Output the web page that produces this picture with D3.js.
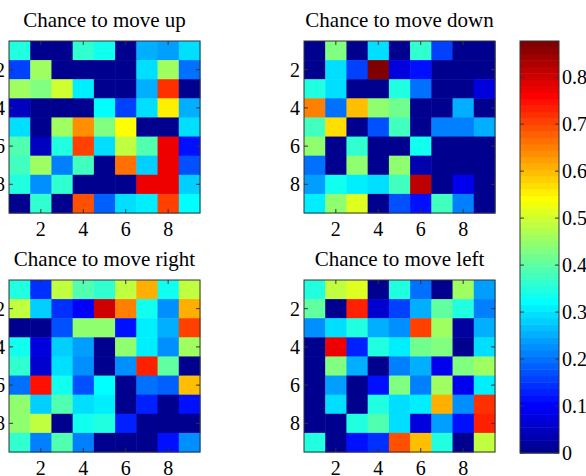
<!DOCTYPE html>
<html>
<head>
<meta charset="utf-8">
<script src="https://cdn.jsdelivr.net/npm/d3@7"></script>
<style>
  body { margin: 0; background: #fff; }
  svg { display: block; font-family: "Liberation Serif", "Times New Roman", serif; }
</style>
</head>
<body>
<div id="chart"></div>
<script>
// values, rows top to bottom, columns left to right
const upData = [
  [0.35, 0, 0, 0.36, 0.33, 0, 0.25, 0.24, 0.29],
  [0.16, 0.46, 0, 0, 0, 0, 0.30, 0.46, 0.20],
  [0.46, 0.43, 0.50, 0.31, 0, 0, 0.25, 0.72, 0],
  [0.05, 0, 0, 0, 0.32, 0.16, 0.29, 0.55, 0.26],
  [0.29, 0, 0.46, 0.64, 0.43, 0.54, 0, 0, 0.30],
  [0.39, 0.05, 0.35, 0.71, 0.29, 0.48, 0.39, 0.78, 0.11],
  [0.37, 0.46, 0.21, 0.37, 0, 0.67, 0.28, 0.78, 0.17],
  [0.35, 0.23, 0.36, 0, 0, 0, 0.78, 0.78, 0.28],
  [0, 0.36, 0, 0.69, 0.19, 0.30, 0.31, 0.71, 0.32]
];
const downData = [
  [0, 0.43, 0, 0.29, 0, 0.36, 0.16, 0, 0],
  [0, 0.29, 0.16, 0.877, 0.08, 0.12, 0, 0, 0],
  [0.35, 0.29, 0, 0, 0.35, 0.20, 0, 0, 0.07],
  [0.65, 0.20, 0.60, 0.44, 0.42, 0, 0, 0.25, 0],
  [0.38, 0.57, 0, 0.17, 0.38, 0, 0.21, 0.21, 0.26],
  [0.45, 0, 0.36, 0, 0, 0.34, 0, 0, 0],
  [0.20, 0, 0.44, 0, 0.44, 0.03, 0, 0, 0],
  [0.24, 0.33, 0.31, 0.30, 0.37, 0.82, 0, 0.09, 0],
  [0.31, 0.45, 0.51, 0, 0.17, 0.12, 0.37, 0.21, 0]
];
const rightData = [
  [0.35, 0.15, 0.49, 0.39, 0.36, 0.48, 0.61, 0.33, 0.49],
  [0.48, 0.28, 0.15, 0.10, 0.80, 0.65, 0.33, 0.23, 0.61],
  [0, 0, 0.17, 0.45, 0.45, 0.12, 0.31, 0.26, 0.70],
  [0.33, 0.07, 0.28, 0.24, 0, 0.45, 0.31, 0.23, 0.46],
  [0.36, 0.06, 0.29, 0.23, 0, 0.23, 0.73, 0.40, 0],
  [0.20, 0.75, 0.33, 0.17, 0.32, 0, 0.20, 0.19, 0.59],
  [0.45, 0.28, 0.39, 0.30, 0.31, 0, 0.13, 0, 0.12],
  [0.45, 0.48, 0, 0.33, 0.35, 0.13, 0, 0, 0],
  [0.36, 0.21, 0.39, 0.21, 0, 0, 0, 0.11, 0.22]
];
const leftData = [
  [0.35, 0.49, 0.51, 0, 0.35, 0.20, 0, 0.46, 0.24],
  [0.40, 0, 0.73, 0.06, 0.16, 0.26, 0.40, 0.35, 0.21],
  [0.23, 0.30, 0.35, 0.25, 0.22, 0.70, 0.46, 0.02, 0.25],
  [0, 0.77, 0.13, 0.35, 0.31, 0.42, 0.43, 0, 0.30],
  [0, 0.43, 0.26, 0, 0.21, 0.26, 0.09, 0.43, 0.46],
  [0, 0.24, 0, 0.11, 0.43, 0.21, 0.46, 0.09, 0.31],
  [0, 0.30, 0, 0.35, 0.29, 0.31, 0.61, 0.22, 0.72],
  [0, 0, 0.35, 0.39, 0.30, 0.08, 0.24, 0.12, 0.73],
  [0.35, 0, 0.12, 0.15, 0.69, 0.60, 0.35, 0, 0.49]
];
const titles = ["Chance to move up", "Chance to move down", "Chance to move right", "Chance to move left"];
const gridIndex = [1, 2, 3, 4, 5, 6, 7, 8, 9];
const axisTicks = [2, 4, 6, 8];
const colorbarTicks = [0, 0.1, 0.2, 0.3, 0.4, 0.5, 0.6, 0.7, 0.8];

const width = 586, height = 476;
const svg = d3.select("#chart").append("svg")
    .attr("width", width)
    .attr("height", height);

// matlab style jet colormap with 64 entries
function jet(m) {
    let n = Math.ceil(m / 4);
    let u = [];
    for (let k = 1; k <= n; k++) u.push(k / n);
    for (let k = 1; k < n; k++) u.push(1);
    for (let k = n; k >= 1; k--) u.push(k / n);
    let off = Math.ceil(n / 2) - (m % 4 === 1 ? 1 : 0);
    let J = d3.range(m).map(() => [0, 0, 0]);
    u.forEach((val, i) => {
        let g = off + i + 1, r = g + n, b = g - n;
        if (g <= m) J[g - 1][1] = val;
        if (r <= m) J[r - 1][0] = val;
        if (b >= 1) J[b - 1][2] = val;
    });
    return J.map(c => d3.rgb(c[0] * 255, c[1] * 255, c[2] * 255).formatHex());
}
const jetColors = jet(64);

const allValues = [].concat(...upData, ...downData, ...rightData, ...leftData);
const cMax = d3.max(allValues);
const color = d3.scaleQuantize().domain([0, cMax]).range(jetColors);

const panelW = 191, panelH = 172;
const panels = [
    {data: upData, title: titles[0], x: 9, y: 41},
    {data: downData, title: titles[1], x: 304, y: 41},
    {data: rightData, title: titles[2], x: 9, y: 280},
    {data: leftData, title: titles[3], x: 304, y: 280}
];

const x = d3.scaleBand().domain(gridIndex).range([0, panelW]);
const y = d3.scaleBand().domain(gridIndex).range([0, panelH]);
const tickLen = 4;
const axisColor = "#333";

panels.forEach(p => {
    let g = svg.append("g").attr("transform", `translate(${p.x},${p.y})`);

    // cells
    p.data.forEach((row, ri) => {
        g.selectAll(null)
            .data(row)
            .enter()
            .append("rect")
            .attr("x", (d, ci) => x(gridIndex[ci]))
            .attr("y", y(gridIndex[ri]))
            .attr("width", x.bandwidth() + 0.5)
            .attr("height", y.bandwidth() + 0.5)
            .attr("fill", d => color(d));
    });

    // box
    g.append("rect")
        .attr("width", panelW)
        .attr("height", panelH)
        .attr("fill", "none")
        .attr("stroke", axisColor)
        .attr("stroke-width", 1);

    // inward ticks on all sides
    axisTicks.forEach(t => {
        let cx = x(t) + x.bandwidth() / 2;
        let cy = y(t) + y.bandwidth() / 2;
        g.append("line").attr("x1", cx).attr("x2", cx).attr("y1", panelH).attr("y2", panelH - tickLen).attr("stroke", axisColor);
        g.append("line").attr("x1", cx).attr("x2", cx).attr("y1", 0).attr("y2", tickLen).attr("stroke", axisColor);
        g.append("line").attr("y1", cy).attr("y2", cy).attr("x1", 0).attr("x2", tickLen).attr("stroke", axisColor);
        g.append("line").attr("y1", cy).attr("y2", cy).attr("x1", panelW).attr("x2", panelW - tickLen).attr("stroke", axisColor);
    });

    // tick labels
    g.selectAll(".xlab")
        .data(axisTicks)
        .enter()
        .append("text")
        .attr("x", d => x(d) + x.bandwidth() / 2)
        .attr("y", panelH + 23)
        .attr("text-anchor", "middle")
        .style("font-size", "20px")
        .text(d => d);

    g.selectAll(".ylab")
        .data(axisTicks)
        .enter()
        .append("text")
        .attr("x", -4)
        .attr("y", d => y(d) + y.bandwidth() / 2)
        .attr("dy", "0.35em")
        .attr("text-anchor", "end")
        .style("font-size", "20px")
        .text(d => d);

    // title
    g.append("text")
        .attr("x", panelW / 2)
        .attr("y", -14)
        .attr("text-anchor", "middle")
        .style("font-size", "21px")
        .text(p.title);
});

// colorbar
const cbX = 520, cbW = 39, cbTop = 41, cbBottom = 453;
const cbScale = d3.scaleLinear().domain([0, cMax]).range([cbBottom, cbTop]);
const step = cMax / 64;
let cb = svg.append("g");

cb.selectAll("rect")
    .data(jetColors)
    .enter()
    .append("rect")
    .attr("x", cbX)
    .attr("y", (d, i) => cbScale((i + 1) * step))
    .attr("width", cbW)
    .attr("height", (d, i) => cbScale(i * step) - cbScale((i + 1) * step) + 0.5)
    .attr("fill", d => d);

cb.append("rect")
    .attr("x", cbX)
    .attr("y", cbTop)
    .attr("width", cbW)
    .attr("height", cbBottom - cbTop)
    .attr("fill", "none")
    .attr("stroke", axisColor);

colorbarTicks.forEach(t => {
    let ty = cbScale(t);
    cb.append("line").attr("x1", cbX).attr("x2", cbX + tickLen).attr("y1", ty).attr("y2", ty).attr("stroke", axisColor);
    cb.append("line").attr("x1", cbX + cbW).attr("x2", cbX + cbW - tickLen).attr("y1", ty).attr("y2", ty).attr("stroke", axisColor);
    cb.append("text")
        .attr("x", cbX + cbW + 3)
        .attr("y", ty)
        .attr("dy", "0.35em")
        .style("font-size", "20px")
        .text(t === 0 ? "0" : d3.format(".1f")(t));
});
</script>
</body>
</html>
